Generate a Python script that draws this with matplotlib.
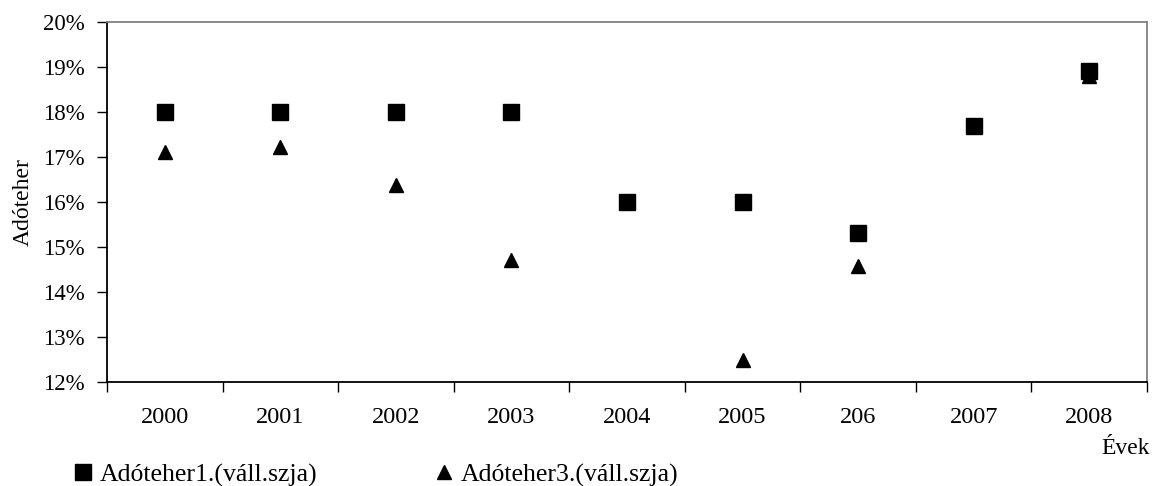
import numpy as np
import matplotlib
matplotlib.use('Agg')
import matplotlib.pyplot as plt
from matplotlib.ticker import FixedLocator, FuncFormatter

plt.rcParams['font.family'] = ['Liberation Serif', 'DejaVu Serif']

years = ['2000', '2001', '2002', '2003', '2004', '2005', '206', '2007', '2008']
adoteher1 = [18.0, 18.0, 18.0, 18.0, 16.0, 16.0, 15.3, 17.68, 18.9]
adoteher3 = [17.1, 17.22, 16.38, 14.7, np.nan, 12.48, 14.57, np.nan, 18.8]
yticks = [12, 13, 14, 15, 16, 17, 18, 19, 20]

fig = plt.figure(figsize=(11.53, 4.86), dpi=100)
ax = fig.add_axes([0.0928, 0.2146, 0.9020, 0.7407])

x = np.arange(len(years))
ax.plot(x, adoteher1, linestyle='none', marker='s', markersize=11,
        color='black', label='Adóteher1.(váll.szja)')
ax.plot(x, adoteher3, linestyle='none', marker='^', markersize=10.5,
        color='black', label='Adóteher3.(váll.szja)')

ax.set_xlim(-0.5, len(years) - 0.5)
ax.set_ylim(12, 20)

# category boundaries get the tick marks, centers get the year labels
ax.xaxis.set_major_locator(FixedLocator(np.arange(-0.5, len(years), 1.0)))
ax.xaxis.set_major_formatter(FuncFormatter(lambda v, p: ''))
ax.xaxis.set_minor_locator(FixedLocator(x))
ax.xaxis.set_minor_formatter(FuncFormatter(lambda v, p: years[int(round(v))]))
ax.tick_params(axis='x', which='major', direction='out', length=7, width=1, color='black')
ax.tick_params(axis='x', which='minor', length=0, pad=18, labelsize=17.5)

ax.set_yticks(yticks)
ax.set_yticklabels(['%d%%' % t for t in yticks])
ax.tick_params(axis='y', direction='out', length=7, width=1, pad=9, labelsize=16.5)

ax.spines['left'].set_color('black')
ax.spines['bottom'].set_color('black')
ax.spines['top'].set_color('#808080')
ax.spines['right'].set_color('#808080')
for s in ax.spines.values():
    s.set_linewidth(1.3)

ax.set_ylabel('Adóteher', fontsize=17, labelpad=7)
fig.text(1150 / 1153, 1 - 454 / 486, 'Évek', ha='right', va='baseline', fontsize=17)

fig.legend(loc='center left', bbox_to_anchor=(74.5 / 1153, 1 - 475 / 486), ncol=2,
           frameon=False, fontsize=18.5, handlelength=0.7, handletextpad=0.29,
           columnspacing=4.57, borderaxespad=0, borderpad=0)

fig.savefig('out.png', dpi=100)
